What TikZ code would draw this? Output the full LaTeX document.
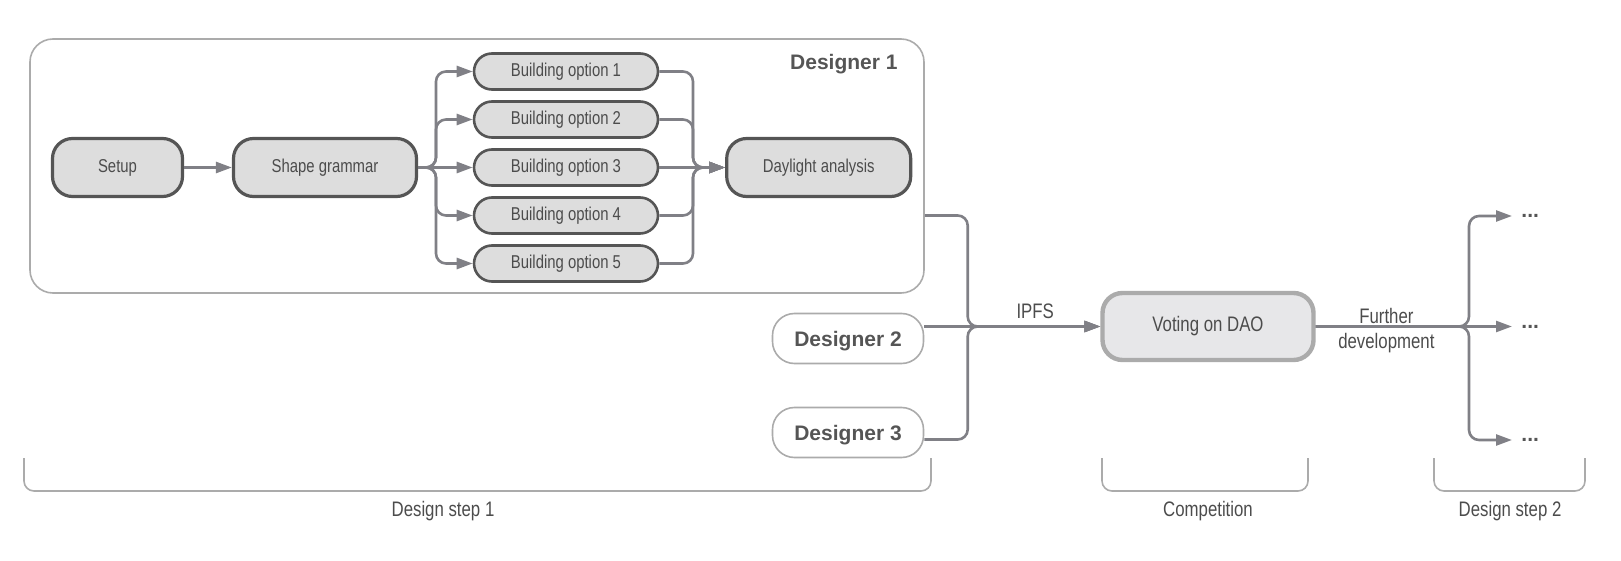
\documentclass[tikz,border=0pt]{standalone}
\usepackage{fontspec}
\setmainfont{Liberation Sans}
\newfontfamily\narrowsf[FakeStretch=0.8]{Liberation Sans}
\usetikzlibrary{arrows.meta}
\definecolor{linegray}{HTML}{808086}
\definecolor{edgegray}{HTML}{555555}
\definecolor{rimgray}{HTML}{ABABAB}
\definecolor{boxfill}{HTML}{DDDDDD}
\definecolor{votefill}{HTML}{E7E7E9}
\definecolor{txtgray}{HTML}{4C4C4C}
\begin{document}
\begin{tikzpicture}[x=0.5pt,y=-0.5pt,
		stage/.style={draw=edgegray, line width=1.6pt, fill=boxfill, rounded corners=10pt,
			minimum height=29pt, inner sep=0pt, text=txtgray, font=\narrowsf\fontsize{9.3}{11}\selectfont},
		option/.style={stage, line width=1.3pt, minimum width=92pt, minimum height=18pt, rounded corners=9pt},
		container/.style={draw=rimgray, line width=0.8pt, rounded corners=11.5pt,
			minimum width=447pt, minimum height=127pt, inner sep=0pt},
		title/.style={text=edgegray, font=\bfseries\fontsize{10.5}{12.6}\selectfont, inner sep=0pt},
		designer/.style={title, draw=rimgray, line width=0.8pt, fill=white, rounded corners=11pt,
			minimum width=75.5pt, minimum height=25pt, text depth=-1.2pt},
		vote/.style={draw=rimgray, line width=2.2pt, fill=votefill, rounded corners=10pt,
			minimum width=105.5pt, minimum height=33.5pt, inner sep=0pt, text=txtgray,
			font=\narrowsf\fontsize{10.5}{12.6}\selectfont},
		caption/.style={text=txtgray, font=\narrowsf\fontsize{10.5}{12.6}\selectfont},
		flow/.style={draw=linegray, line width=1.3pt, rounded corners=5pt, -{Triangle[length=8pt,width=5.5pt]}},
		brace/.style={draw=rimgray, line width=0.8pt, rounded corners=5pt}]
	\useasboundingbox (0,0) rectangle (1621,561);
	% designer 1 and its steps
	\node[container] (d1) at (477,166) {};
	\node[title, anchor=east] (d1title) at (898,64) {Designer 1};
	\node[stage, minimum width=65pt] (setup) at (117.5,167.5) {Setup};
	\node[stage, minimum width=91.5pt] (grammar) at (325,167.5) {Shape grammar};
	\foreach \i in {1,...,5}
		\node[option] (opt\i) at (566,{71.5+48*(\i-1)}) {Building option \i};
	\node[stage, minimum width=92pt] (daylight) at (818.7,167.5) {Daylight analysis};
	% other designers and the vote
	\node[designer] (d2) at (848,338.5) {Designer 2};
	\node[designer] (d3) at (848,432.5) {Designer 3};
	\node[vote] (dao) at (1208,326.5) {Voting on DAO};
	\foreach \y [count=\k] in {216,326.5,440}
		\node[title, inner xsep=4.5pt, inner ysep=0pt, anchor=west] (more\k) at (1512,\y) {...};
	\coordinate (split) at (436,167.5);
	\coordinate (merge) at (693,167.5);
	\coordinate (ipfs) at (967.7,326.5);
	\coordinate (fork) at (1469,326.5);
	% connectors
	\draw[flow] (setup) -- (grammar);
	\draw[flow] (grammar) -- (opt3);
	\draw[flow] (opt3) -- (daylight);
	\foreach \i in {1,2,4,5}{
		\draw[flow] (grammar.east) -- (split) |- (opt\i.west);
		\draw[flow] (opt\i.east) -| (merge) -- (daylight.west);
	}
	\draw[flow] (d1.east |- opt4.east) -| (ipfs) -- (dao.west);
	\draw[flow] (d2.east |- ipfs) -- node[caption, pos=0.63, above] (ipfslbl) {IPFS} (dao.west);
	\draw[flow] ([yshift=-3.5pt]d3.east) -| (ipfs) -- (dao.west);
	\draw[flow] (dao) -- node[caption, pos=0.36, yshift=-2pt, align=center] (further) {Further\\development} (more2);
	\draw[flow] (dao.east) -- (fork) |- (more1.west);
	\draw[flow] (dao.east) -- (fork) |- (more3.west);
	% phases
	\draw[brace] (24,458) -- (24,491) -- (931,491) -- (931,458);
	\draw[brace] (1102,458) -- (1102,491) -- (1308,491) -- (1308,458);
	\draw[brace] (1434,458) -- (1434,491) -- (1585,491) -- (1585,458);
	\node[caption] (step1) at (443,511) {Design step 1};
	\node[caption] (compet) at (1208,511) {Competition};
	\node[caption] (step2) at (1510,511) {Design step 2};
\end{tikzpicture}
\end{document}
